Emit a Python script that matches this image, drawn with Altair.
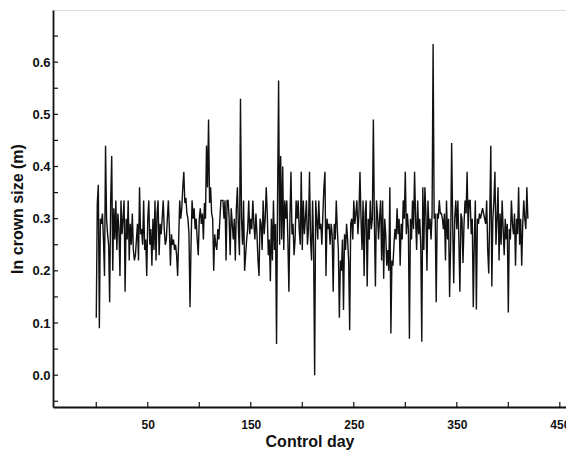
import altair as alt
import pandas as pd

# ln crown size (m) per control day (days 0..419)
values = [
    0.11, 0.33, 0.365, 0.09, 0.30, 0.29, 0.31, 0.26, 0.19, 0.44, 0.30, 0.27, 0.25, 0.14, 0.335, 0.42, 0.20, 0.32, 0.26, 0.335,
    0.24, 0.31, 0.28, 0.19, 0.335, 0.27, 0.30, 0.335, 0.16, 0.30, 0.26, 0.335, 0.22, 0.29, 0.25, 0.31, 0.24, 0.22, 0.23, 0.26,
    0.29, 0.22, 0.36, 0.27, 0.28, 0.25, 0.335, 0.24, 0.26, 0.19, 0.30, 0.335, 0.25, 0.28, 0.21, 0.30, 0.24, 0.335, 0.22, 0.31,
    0.335, 0.23, 0.29, 0.27, 0.30, 0.335, 0.28, 0.25, 0.26, 0.30, 0.335, 0.28, 0.21, 0.27, 0.25, 0.26, 0.24, 0.25, 0.23, 0.19,
    0.26, 0.335, 0.30, 0.32, 0.36, 0.39, 0.33, 0.34, 0.31, 0.30, 0.27, 0.13, 0.25, 0.335, 0.30, 0.32, 0.28, 0.30, 0.26, 0.23,
    0.30, 0.32, 0.29, 0.31, 0.26, 0.33, 0.30, 0.44, 0.36, 0.49, 0.33, 0.36, 0.31, 0.30, 0.20, 0.27, 0.25, 0.24, 0.28, 0.26,
    0.30, 0.335, 0.335, 0.335, 0.30, 0.335, 0.22, 0.335, 0.335, 0.30, 0.23, 0.32, 0.29, 0.26, 0.30, 0.22, 0.32, 0.36, 0.28, 0.23,
    0.53, 0.30, 0.25, 0.335, 0.20, 0.23, 0.26, 0.28, 0.335, 0.27, 0.30, 0.28, 0.335, 0.29, 0.26, 0.31, 0.27, 0.22, 0.19, 0.30,
    0.29, 0.24, 0.335, 0.27, 0.30, 0.36, 0.31, 0.23, 0.26, 0.18, 0.30, 0.22, 0.335, 0.24, 0.29, 0.06, 0.335, 0.565, 0.25, 0.42,
    0.26, 0.40, 0.24, 0.335, 0.30, 0.335, 0.26, 0.16, 0.30, 0.39, 0.27, 0.29, 0.23, 0.26, 0.335, 0.30, 0.335, 0.28, 0.25, 0.39,
    0.24, 0.335, 0.27, 0.30, 0.335, 0.25, 0.28, 0.39, 0.26, 0.22, 0.335, 0.24, 0.00, 0.335, 0.30, 0.26, 0.335, 0.28, 0.29, 0.25,
    0.31, 0.36, 0.39, 0.19, 0.30, 0.28, 0.29, 0.25, 0.29, 0.27, 0.16, 0.29, 0.26, 0.335, 0.28, 0.24, 0.11, 0.22, 0.20, 0.26,
    0.125, 0.27, 0.24, 0.29, 0.26, 0.22, 0.086, 0.29, 0.30, 0.26, 0.335, 0.29, 0.31, 0.335, 0.27, 0.31, 0.39, 0.30, 0.24, 0.335,
    0.19, 0.31, 0.335, 0.17, 0.30, 0.26, 0.335, 0.28, 0.30, 0.49, 0.29, 0.17, 0.335, 0.31, 0.26, 0.30, 0.335, 0.22, 0.335, 0.185,
    0.30, 0.27, 0.21, 0.24, 0.20, 0.36, 0.08, 0.22, 0.21, 0.25, 0.28, 0.26, 0.32, 0.27, 0.30, 0.21, 0.29, 0.26, 0.335, 0.30,
    0.39, 0.27, 0.31, 0.28, 0.07, 0.30, 0.26, 0.335, 0.28, 0.39, 0.30, 0.24, 0.335, 0.27, 0.30, 0.25, 0.064, 0.36, 0.24, 0.36,
    0.31, 0.20, 0.335, 0.28, 0.30, 0.26, 0.31, 0.635, 0.30, 0.31, 0.14, 0.31, 0.30, 0.335, 0.31, 0.31, 0.30, 0.28, 0.31, 0.22,
    0.335, 0.26, 0.30, 0.15, 0.25, 0.445, 0.29, 0.176, 0.30, 0.335, 0.28, 0.335, 0.26, 0.16, 0.31, 0.30, 0.215, 0.29, 0.335, 0.31,
    0.39, 0.28, 0.335, 0.335, 0.27, 0.30, 0.13, 0.26, 0.335, 0.126, 0.30, 0.29, 0.31, 0.30, 0.31, 0.32, 0.31, 0.30, 0.29, 0.335,
    0.24, 0.195, 0.31, 0.44, 0.17, 0.30, 0.335, 0.39, 0.25, 0.30, 0.36, 0.22, 0.31, 0.25, 0.335, 0.28, 0.23, 0.30, 0.26, 0.29,
    0.12, 0.28, 0.26, 0.335, 0.29, 0.27, 0.31, 0.21, 0.30, 0.27, 0.36, 0.25, 0.30, 0.21, 0.29, 0.335, 0.30, 0.28, 0.36, 0.30,
]
days = list(range(len(values)))

x_labels = [50, 150, 250, 350, 450]
x_ticks = [0, 50, 100, 150, 200, 250, 300, 350, 400, 450]
y_labels = [0.0, 0.1, 0.2, 0.3, 0.4, 0.5, 0.6]
y_ticks = [-0.05, 0.0, 0.05, 0.1, 0.15, 0.2, 0.25, 0.3, 0.35, 0.4, 0.45, 0.5, 0.55, 0.6, 0.65]

df = pd.DataFrame({"day": days, "size": values})
xt = pd.DataFrame({"t": x_ticks})
yt = pd.DataFrame({"t": y_ticks})

FONT = "Liberation Sans"
xscale = alt.Scale(domain=[-42, 456], nice=False, zero=False)
yscale = alt.Scale(domain=[-0.061, 0.70], nice=False, zero=False)

line = alt.Chart(df).mark_line(color="#111111", strokeWidth=1.4).encode(
    x=alt.X("day:Q", scale=xscale,
            axis=alt.Axis(values=x_labels, title="Control day", ticks=False, grid=False,
                          labelFlush=False, labelOverlap=False, labelPadding=12,
                          labelFont=FONT, labelFontSize=12, labelFontWeight="bold",
                          labelColor="#111", titleFont=FONT, titleFontSize=16,
                          titleFontWeight="bold", titleColor="#111", titlePadding=3,
                          domainColor="#111", domainWidth=1.8)),
    y=alt.Y("size:Q", scale=yscale,
            axis=alt.Axis(values=y_labels, title="ln crown size (m)", ticks=False, grid=False,
                          format=".1f", labelPadding=3, labelFlush=False, labelOverlap=False,
                          labelFont=FONT, labelFontSize=13, labelFontWeight="bold",
                          labelColor="#111", titleFont=FONT, titleFontSize=16,
                          titleFontWeight="bold", titleColor="#111", titlePadding=6,
                          domainColor="#111", domainWidth=1.8)),
)

xtick = alt.Chart(xt).mark_rule(color="#111", strokeWidth=1.2).encode(
    x=alt.X("t:Q", scale=xscale), y=alt.value(397), y2=alt.value(392)
)
ytick = alt.Chart(yt).mark_rule(color="#111", strokeWidth=1.2).encode(
    y=alt.Y("t:Q", scale=yscale), x=alt.value(0), x2=alt.value(5)
)

chart = alt.layer(line, xtick, ytick).properties(
    width=513, height=397,
    autosize=alt.AutoSizeParams(type="none"),
    padding={"left": 53, "top": 10, "right": 0, "bottom": 46},
).configure_view(stroke=None).configure(background="white")

chart.save("out.html", embed_options={"renderer": "svg", "actions": False})
